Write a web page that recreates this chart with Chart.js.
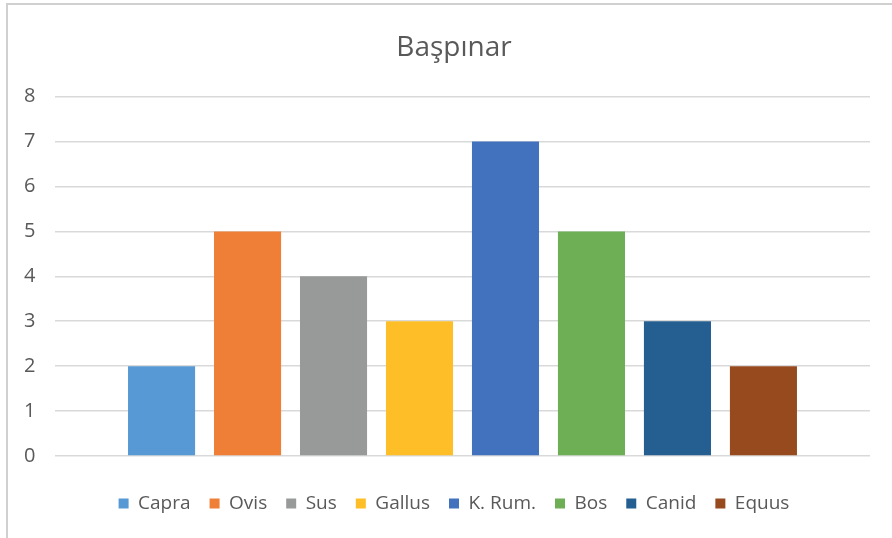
<!DOCTYPE html>
<html>
<head>
<meta charset="utf-8">
<script src="https://cdn.jsdelivr.net/npm/chart.js@4"></script>
<style>
  html, body { margin: 0; padding: 0; background: #fff; }
  #wrap { position: relative; width: 892px; height: 538px; }
</style>
</head>
<body>
<div id="wrap"><canvas id="chart"></canvas></div>
<script>
// Başpınar - counts per taxon
const categories = ["Capra", "Ovis", "Sus", "Gallus", "K. Rum.", "Bos", "Canid", "Equus"];
const counts = [2, 5, 4, 3, 7, 5, 3, 2];
const colors = ["#5699D4", "#EF7F37", "#989A9A", "#FDBE27", "#4272BD", "#6EAF55", "#255E91", "#984A1F"];
const yTicks = [0, 1, 2, 3, 4, 5, 6, 7, 8];

const textColor = "#595959";
const gridColor = "#D9D9D9";

// white page + light frame like the Excel chart box
const frame = {
  id: "frame",
  beforeDraw(chart) {
    const ctx = chart.ctx;
    ctx.save();
    ctx.fillStyle = "#fff";
    ctx.fillRect(0, 0, chart.width, chart.height);
    ctx.strokeStyle = "#D0D0D0";
    ctx.lineWidth = 2;
    ctx.strokeRect(7, 4, 920, 600);
    ctx.restore();
  },
};

const datasets = categories.map((name, i) => ({
  label: name,
  data: [counts[i]],
  backgroundColor: colors[i],
  borderWidth: 0,
}));

new Chart(document.getElementById("chart"), {
  type: "bar",
  data: { labels: [""], datasets: datasets },
  options: {
    responsive: true,
    maintainAspectRatio: false,
    animation: false,
    categoryPercentage: 0.844,
    barPercentage: 0.78,
    // left padding shifts title/legend centre toward the plot
    layout: { padding: { left: 38, right: 22, top: 0, bottom: 15 } },
    plugins: {
      tooltip: { enabled: false },
      title: {
        display: true,
        text: "Başpınar",
        color: textColor,
        font: { family: "Open Sans", size: 28, weight: "normal" },
        padding: { top: 31, bottom: 32 },
      },
      legend: {
        position: "bottom",
        labels: {
          color: textColor,
          font: { family: "Open Sans", size: 19 },
          boxWidth: 10,
          boxHeight: 10,
          padding: 19,
        },
      },
    },
    scales: {
      x: {
        ticks: { display: false },
        grid: { display: false },
        border: { display: false },
        afterFit: (scale) => { scale.height = 19; },
      },
      y: {
        min: 0,
        max: 8,
        afterBuildTicks: (scale) => { scale.ticks = yTicks.map((v) => ({ value: v })); },
        afterFit: (scale) => { scale.width = 17; },
        // mirrored so labels are not clipped to the narrow axis box;
        // negative padding puts them back left of the plot (right edge ~x=35)
        ticks: {
          color: textColor,
          font: { family: "Open Sans", size: 20 },
          mirror: true,
          crossAlign: "far",
          padding: -31,
        },
        grid: { color: gridColor, lineWidth: 1.5, drawTicks: false },
        border: { display: false },
      },
    },
  },
  plugins: [frame],
});
</script>
</body>
</html>
